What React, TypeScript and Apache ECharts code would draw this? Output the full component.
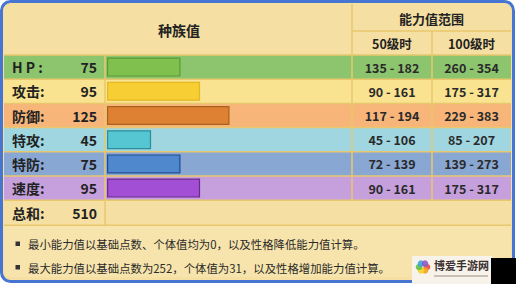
import React, { useEffect, useRef } from "react";
import * as echarts from "echarts";

const statNames = ["H P :", "攻击:", "防御:", "特攻:", "特防:", "速度:"];
const baseStats = [75, 95, 125, 45, 75, 95];
const lv50Ranges = ["135 - 182", "90 - 161", "117 - 194", "45 - 106", "72 - 139", "90 - 161"];
const lv100Ranges = ["260 - 354", "175 - 317", "229 - 383", "85 - 207", "139 - 273", "175 - 317"];
const totalLabel = "总和:";
const totalValue = 510;
const headerBase = "种族值";
const headerRange = "能力值范围";
const headerLv50 = "50级时";
const headerLv100 = "100级时";
const notes = [
  "最小能力值以基础点数、个体值均为0，以及性格降低能力值计算。",
  "最大能力值以基础点数为252，个体值为31，以及性格增加能力值计算。",
];
const watermark = "博爱手游网";

const rowBg = ["#8dc56f", "#f9e290", "#f7b57a", "#9fd6e0", "#89a7d3", "#c6a0dd"];
const barFill = ["#80c04e", "#f7cf35", "#de8132", "#55c6d2", "#4f88cc", "#a24fd5"];
const barBorder = ["#5a9a32", "#e3b824", "#a8621f", "#2d8c98", "#1f4b92", "#6b2b8c"];

const CJK = "'Noto Sans CJK SC', 'Noto Sans', sans-serif";

export default function App() {
  const ref = useRef<HTMLDivElement>(null);
  useEffect(() => {
    if (!ref.current) return;
    const chart = echarts.init(ref.current, undefined, { renderer: "svg" });
    const TOP = 55;
    const ROW_H = 24.2;
    const X0 = 4;
    const XL = 105;
    const XB = 352;
    const XM = 432;
    const X1 = 511;
    const TOTAL_TOP = TOP + ROW_H * 6;
    const TOTAL_BOT = TOTAL_TOP + 25;
    const HEADER = "#f5dfa2";
    const LINE = "#e9c76c";

    const g: any[] = [];
    // frame
    g.push({ type: "rect", z: 0, shape: { x: 1.5, y: 1.5, width: 512, height: 280, r: 9 }, style: { fill: HEADER, stroke: "#4776d2", lineWidth: 3 } });
    g.push({ type: "rect", z: 0, shape: { x: X0, y: TOTAL_BOT, width: X1 - X0, height: 277 - TOTAL_BOT, r: [0, 0, 6, 6] }, style: { fill: "#f7e4ac" } });
    // rows
    statNames.forEach((name, i) => {
      const y = TOP + i * ROW_H;
      g.push({ type: "rect", z: 0, shape: { x: X0, y, width: X1 - X0, height: ROW_H }, style: { fill: rowBg[i] } });
      g.push({ type: "text", z: 10, style: { text: name, x: 12, y: y + ROW_H / 2, fill: "#222", font: `bold 14px ${CJK}`, textVerticalAlign: "middle", textAlign: "left" } });
      g.push({ type: "text", z: 10, style: { text: String(baseStats[i]), x: 97, y: y + ROW_H / 2, fill: "#222", font: `bold 14px ${CJK}`, textVerticalAlign: "middle", textAlign: "right" } });
      g.push({ type: "text", z: 10, style: { text: lv50Ranges[i], x: (XB + XM) / 2, y: y + ROW_H / 2, fill: "#2a2a2a", font: `bold 12.5px ${CJK}`, textVerticalAlign: "middle", textAlign: "center" } });
      g.push({ type: "text", z: 10, style: { text: lv100Ranges[i], x: (XM + X1) / 2, y: y + ROW_H / 2, fill: "#2a2a2a", font: `bold 12.5px ${CJK}`, textVerticalAlign: "middle", textAlign: "center" } });
    });
    // horizontal lines
    const hLines = [TOP];
    for (let i = 1; i <= 6; i++) hLines.push(TOP + i * ROW_H);
    hLines.push(TOTAL_BOT);
    hLines.forEach((y) => {
      g.push({ type: "line", z: 5, shape: { x1: X0, y1: y, x2: X1, y2: y }, style: { stroke: LINE, lineWidth: 1.5 } });
    });
    g.push({ type: "line", z: 5, shape: { x1: XB, y1: 31, x2: X1, y2: 31 }, style: { stroke: LINE, lineWidth: 1.5 } });
    // vertical lines
    g.push({ type: "line", z: 5, shape: { x1: XL, y1: TOP, x2: XL, y2: TOTAL_BOT }, style: { stroke: LINE, lineWidth: 1.5 } });
    g.push({ type: "line", z: 5, shape: { x1: XB, y1: 4, x2: XB, y2: TOTAL_TOP }, style: { stroke: LINE, lineWidth: 1.5 } });
    g.push({ type: "line", z: 5, shape: { x1: XM, y1: 31, x2: XM, y2: TOTAL_TOP }, style: { stroke: LINE, lineWidth: 1.5 } });
    // headers
    g.push({ type: "text", z: 10, style: { text: headerBase, x: 179, y: 30, fill: "#222", font: `bold 14px ${CJK}`, textVerticalAlign: "middle", textAlign: "center" } });
    g.push({ type: "text", z: 10, style: { text: headerRange, x: (XB + X1) / 2, y: 18, fill: "#222", font: `bold 13px ${CJK}`, textVerticalAlign: "middle", textAlign: "center" } });
    g.push({ type: "text", z: 10, style: { text: headerLv50, x: (XB + XM) / 2, y: 43, fill: "#222", font: `bold 12.5px ${CJK}`, textVerticalAlign: "middle", textAlign: "center" } });
    g.push({ type: "text", z: 10, style: { text: headerLv100, x: (XM + X1) / 2, y: 43, fill: "#222", font: `bold 12.5px ${CJK}`, textVerticalAlign: "middle", textAlign: "center" } });
    // total
    g.push({ type: "text", z: 10, style: { text: totalLabel, x: 12, y: (TOTAL_TOP + TOTAL_BOT) / 2, fill: "#222", font: `bold 14px ${CJK}`, textVerticalAlign: "middle", textAlign: "left" } });
    g.push({ type: "text", z: 10, style: { text: String(totalValue), x: 97, y: (TOTAL_TOP + TOTAL_BOT) / 2, fill: "#222", font: `bold 14px ${CJK}`, textVerticalAlign: "middle", textAlign: "right" } });
    // notes
    notes.forEach((t, i) => {
      const y = 244 + i * 23.5;
      g.push({ type: "rect", z: 10, shape: { x: 15.5, y: y - 2.5, width: 4.5, height: 4.5 }, style: { fill: "#333" } });
      g.push({ type: "text", z: 10, style: { text: t, x: 28, y, fill: "#2a2a2a", font: `11.4px ${CJK}`, textVerticalAlign: "middle", textAlign: "left" } });
    });
    // watermark
    g.push({ type: "rect", z: 20, shape: { x: 412, y: 256, width: 80, height: 28 }, style: { fill: "#f8f3ea" } });
    g.push({ type: "rect", z: 20, shape: { x: 491, y: 258, width: 25, height: 26 }, style: { fill: "#000" } });
    const petals = ["#e94c3d", "#f3a321", "#f6d32b", "#5fbf4a", "#3aa6dc", "#8e5bc6"];
    petals.forEach((c, i) => {
      const a = (i / petals.length) * Math.PI * 2;
      g.push({ type: "circle", z: 21, shape: { cx: 423 + Math.cos(a) * 4, cy: 267 + Math.sin(a) * 4, r: 3.3 }, style: { fill: c, opacity: 0.9 } });
    });
    g.push({ type: "text", z: 21, style: { text: watermark, x: 434, y: 265, fill: "#3a3030", font: `bold 11px ${CJK}`, textVerticalAlign: "middle", textAlign: "left" } });
    g.push({ type: "rect", z: 21, shape: { x: 434, y: 275, width: 54, height: 2 }, style: { fill: "#c9bfb5" } });

    chart.setOption({
      animation: false,
      grid: { left: XL + 2, top: TOP, width: XB - XL - 2, height: ROW_H * 6, containLabel: false },
      xAxis: { type: "value", min: 0, max: 250, show: false },
      yAxis: { type: "category", inverse: true, data: statNames, show: false },
      graphic: g,
      series: [
        {
          type: "bar",
          z: 8,
          barWidth: 19,
          data: baseStats.map((v, i) => ({
            value: v,
            itemStyle: { color: barFill[i], borderColor: barBorder[i], borderWidth: 1.2 },
          })),
          silent: true,
        },
      ],
    });
    return () => chart.dispose();
  }, []);
  return <div ref={ref} style={{ width: 516, height: 284, position: "absolute", left: 0, top: 0 }} />;
}
